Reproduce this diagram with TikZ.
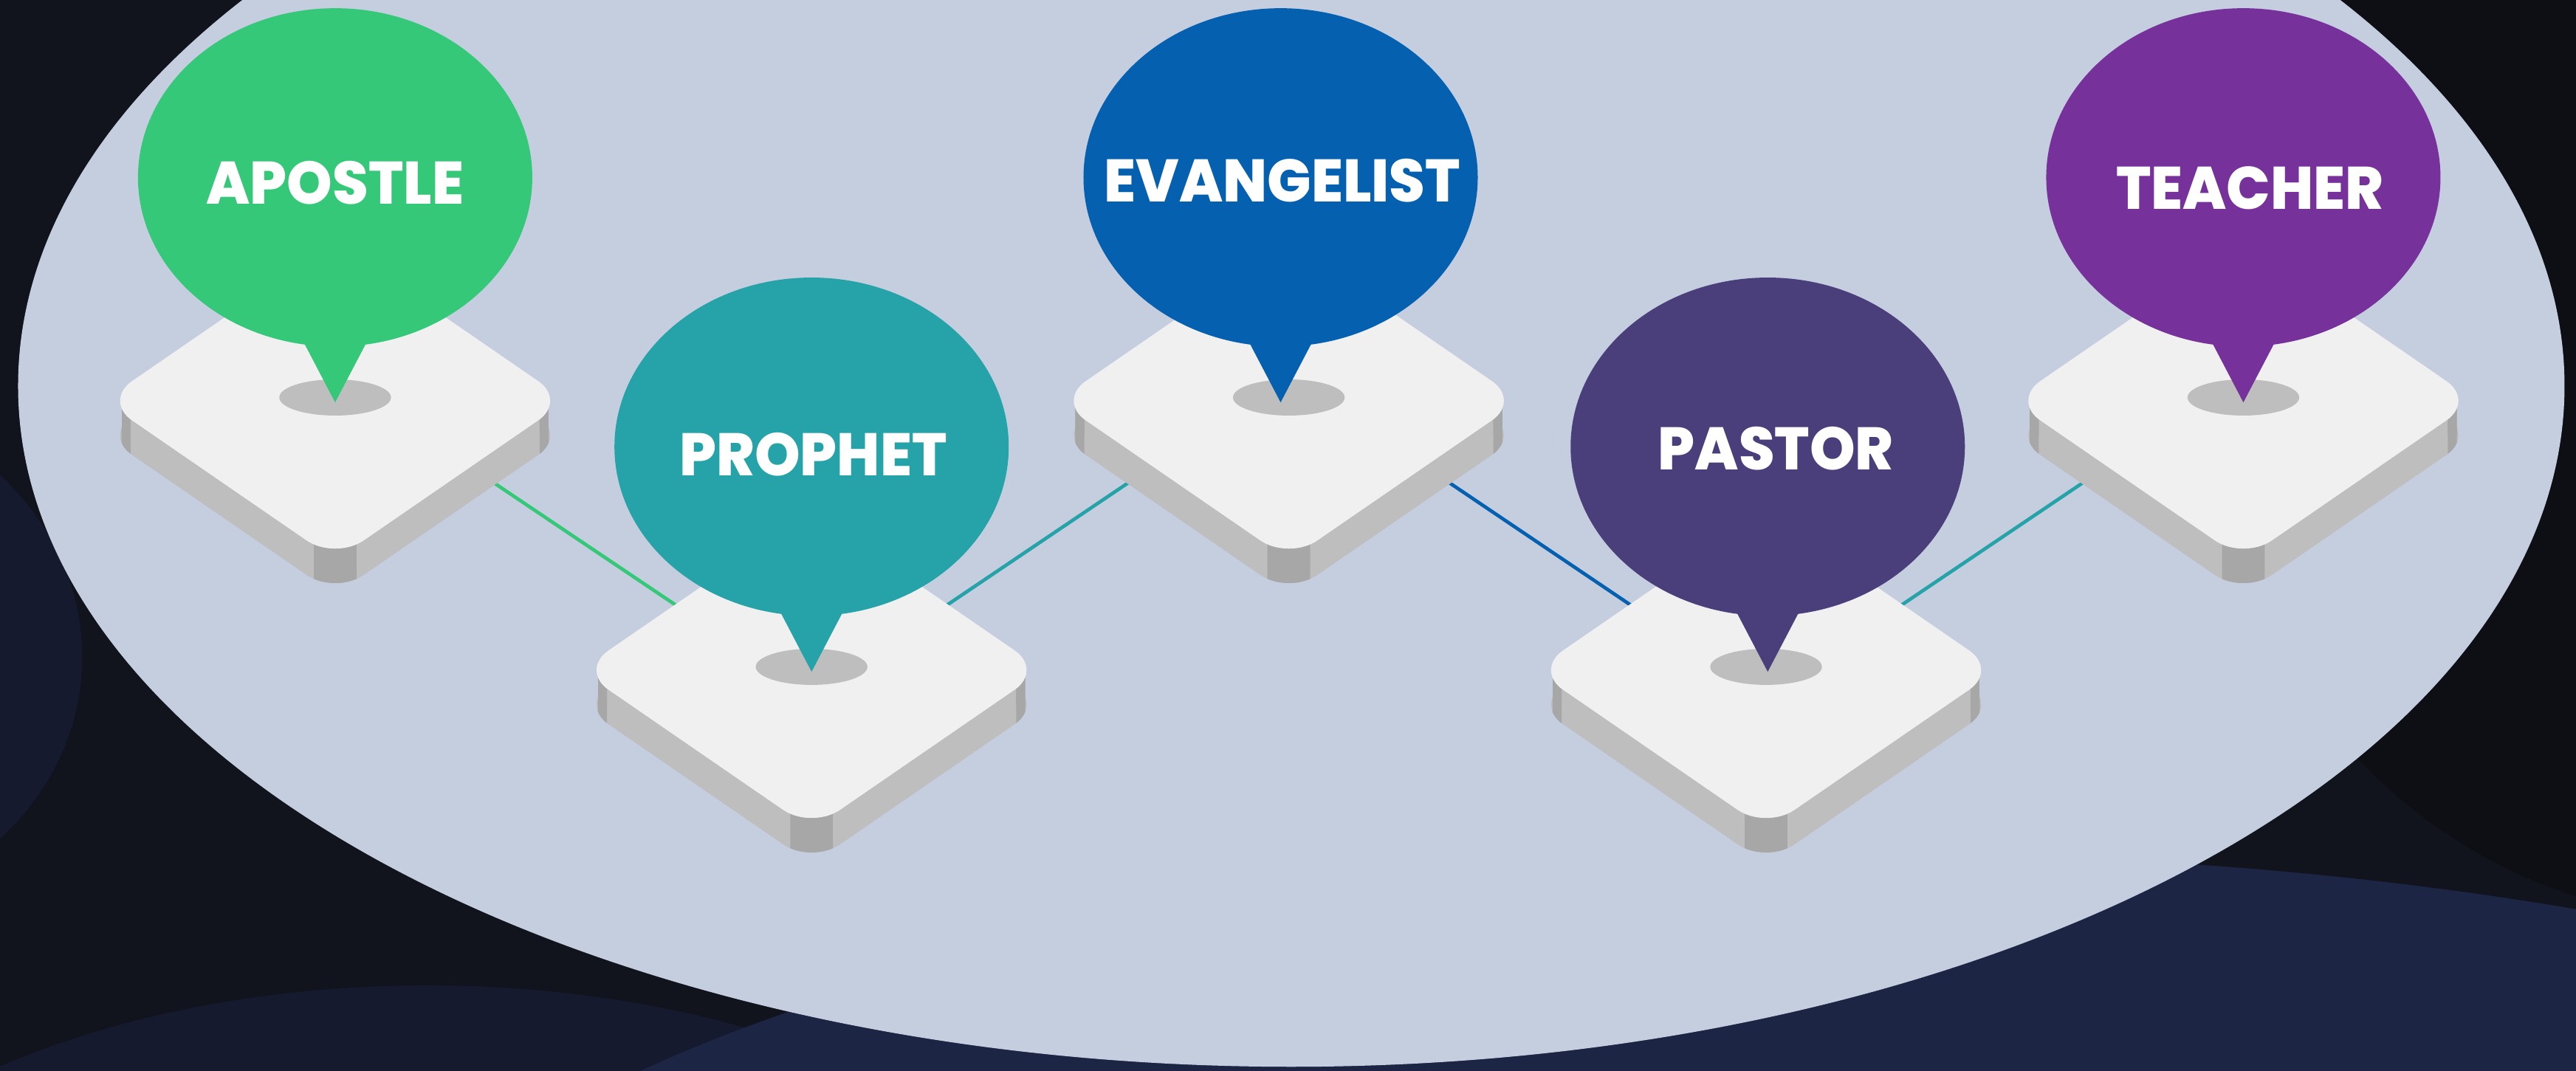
\documentclass[tikz,border=0pt]{standalone}
\usepackage{fontspec}
\usetikzlibrary{positioning}
\usetikzlibrary{shapes.geometric,calc}
\IfFontExistsTF{Poppins ExtraBold}
  {\newfontfamily\padfont{Poppins ExtraBold}}
  {\newfontfamily\padfont{Poppins}[UprightFont=* Bold]}

\definecolor{bgdark}{HTML}{12141D}
\definecolor{bgnavy}{HTML}{1D2545}
\definecolor{bgdeep}{HTML}{151A2F}
\definecolor{bgblack}{HTML}{0E0F14}
\definecolor{plate}{HTML}{C5CEDF}
\definecolor{padwhite}{HTML}{F0F0F0}
\definecolor{padgrey}{HTML}{BEBEBE}
\definecolor{paddark}{HTML}{A7A7A7}
\definecolor{apostle}{HTML}{35C879}
\definecolor{prophet}{HTML}{25A3A8}
\definecolor{evangelist}{HTML}{0560B0}
\definecolor{pastor}{HTML}{4B3F7B}
\definecolor{teacher}{HTML}{76319B}

\begin{document}
\begin{tikzpicture}[outer sep=0pt,
  padshape/.style={rounded corners=0.21cm,
    insert path={(-0.705,0.485) -- (0,0.97) -- (1.41,0) -- (0,-0.97) -- (-1.41,0) -- cycle}},
  padtop/.style={fill=padwhite},
  padside/.style={fill=padgrey},
  padedge/.style={fill=paddark},
  padhole/.style={fill=padgrey},
  link/.style={line width=0.6pt},
  bubble/.style={ellipse, minimum width=2.4cm, minimum height=2.06cm, inner sep=0pt},
  padlabel/.style={text=white, inner sep=1pt, xscale=0.965, transform shape,
    font=\padfont\fontsize{10.4}{12}\selectfont}]

\useasboundingbox (0,0) rectangle (15.68,-6.52);
\clip (0,0) rectangle (15.68,-6.52);

% background
\fill[bgdark] (0,0) rectangle (15.68,-6.52);
\fill[bgdeep] (-1.3,-4.0) ellipse (1.8 and 1.6);
\fill[bgdeep] (2.6,-8.3) ellipse (4.2 and 2.3);
\fill[bgnavy] (11.5,-8.5) ellipse (9.5 and 3.3);
\fill[bgblack] (16.6,-2.2) ellipse (3.2 and 3.4);

\fill[plate] (7.86,-2.35) ellipse (7.75 and 4.145);

\coordinate (pad1) at (2.04,-2.44);
\coordinate (pad2) at ($(pad1)+(2.9,-1.64)$);
\coordinate (pad3) at ($(pad2)+(2.905,1.64)$);
\coordinate (pad4) at ($(pad3)+(2.905,-1.64)$);
\coordinate (pad5) at ($(pad4)+(2.905,1.64)$);

% connectors, under the pads
\coordinate (j1) at ($(pad1)+(0,0.15)$);
\coordinate (j2) at ($(pad2)+(0,-0.16)$);
\coordinate (j3) at ($(pad3)+(0,0.16)$);
\coordinate (j4) at ($(pad4)+(0,-0.16)$);
\coordinate (j5) at ($(pad5)+(0,0.16)$);

\draw[link, apostle]    (j1) -- (j2);
\draw[link, prophet]    (j2) -- (j3);
\draw[link, evangelist] (j3) -- (j4);
\draw[link, prophet]    (j4) -- (j5);

% pads
\foreach \n in {1,...,5}{
  \begin{scope}[shift={(pad\n)}]
    \fill[padside] (-1.3,0) rectangle (1.3,-0.21);
    \fill[padside, yshift=-0.21cm, padshape];
    \foreach \a/\b in {-1.30/-1.245, -0.13/0.13, 1.245/1.30}{
      \begin{scope}
        \clip (\a,0) rectangle (\b,-1.3);
        \fill[padedge] (-1.3,0) rectangle (1.3,-0.21);
        \fill[padedge, yshift=-0.21cm, padshape];
      \end{scope}
    }
    \fill[padtop, padshape];
    \fill[padhole] (0,0.02) ellipse (0.34 and 0.11);
  \end{scope}
}

% bubbles
\foreach \n/\name/\t/\dx/\tx/\ty in {1/apostle/APOSTLE/0/0/-0.035, 2/prophet/PROPHET/0/0.01/-0.045,
    3/evangelist/EVANGELIST/-0.05/0.01/-0.02, 4/pastor/PASTOR/0.01/0.05/-0.01,
    5/teacher/TEACHER/0/0.04/-0.065}{
  \fill[\name] ($(pad\n)+(\dx-0.225,0.42)$) -- ($(pad\n)+(\dx,-0.01)$) -- ($(pad\n)+(\dx+0.225,0.42)$) -- cycle;
  \node[bubble, fill=\name] (\name) at ($(pad\n)+(\dx,1.36)$) {};
  \node[padlabel] (\name-text) at ($(\name)+(\tx,\ty)$) {\t};
}

\end{tikzpicture}
\end{document}
